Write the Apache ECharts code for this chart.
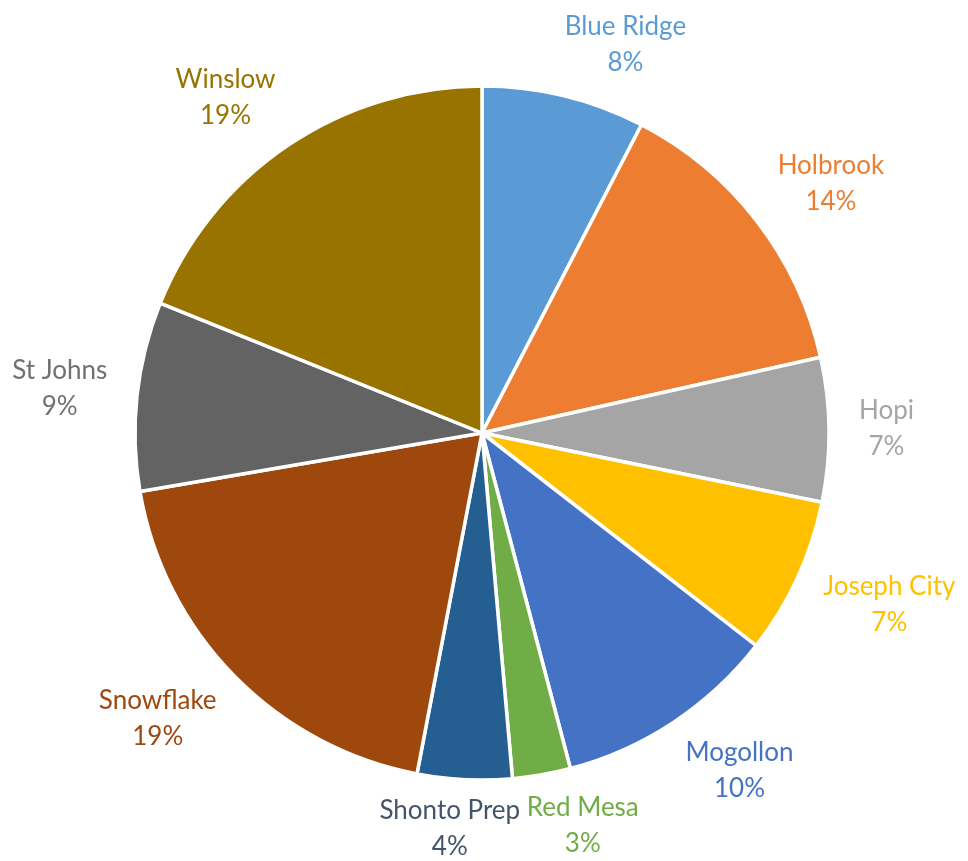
<!DOCTYPE html>
<html>
<head>
<meta charset="utf-8">
<title>Enrollment by School</title>
<script src="https://cdn.jsdelivr.net/npm/echarts@6/dist/echarts.min.js"></script>
<style>
  html, body { margin: 0; padding: 0; background: #ffffff; }
  #chart { width: 968px; height: 861px; }
</style>
</head>
<body>
<div id="chart"></div>
<script>
// Share of the total for each school, clockwise from 12 o'clock
const schools = ['Blue Ridge', 'Holbrook', 'Hopi', 'Joseph City', 'Mogollon',
                 'Red Mesa', 'Shonto Prep', 'Snowflake', 'St Johns', 'Winslow'];
const shares = [7.6, 13.9, 6.7, 7.3, 10.4, 2.7, 4.4, 19.3, 8.8, 18.9];

// Office-style palette for the slices and their labels
const sliceColors = ['#5B9BD5', '#ED7D31', '#A5A5A5', '#FFC000', '#4472C4',
                     '#70AD47', '#255E91', '#9E480E', '#636363', '#997300'];
const labelColors = ['#5B9BD5', '#ED7D31', '#A5A5A5', '#FFC000', '#4472C4',
                     '#70AD47', '#44546A', '#9E480E', '#707070', '#997300'];

const CX = 482, CY = 433, R = 347;

// Mid-angle of each slice (radians, clockwise from the top)
const total = shares.reduce((a, b) => a + b, 0);
const midAngles = [];
let acc = 0;
shares.forEach(v => { midAngles.push((acc + v / 2) / total * 2 * Math.PI); acc += v; });

const clamp = (t) => Math.max(-1, Math.min(1, t));

const chart = echarts.init(document.getElementById('chart'), null, { renderer: 'canvas' });

chart.setOption({
  animation: false,
  backgroundColor: '#ffffff',
  series: [{
    type: 'pie',
    center: [CX, CY],
    radius: R,
    startAngle: 90,
    clockwise: true,
    avoidLabelOverlap: false,
    silent: true,
    itemStyle: { borderColor: '#ffffff', borderWidth: 3.5 },
    label: {
      show: true,
      position: 'outside',
      formatter: (p) => p.name + '\n' + Math.round(p.percent) + '%',
      fontFamily: 'Lato, "Open Sans", sans-serif',
      fontSize: 26,
      lineHeight: 36,
      align: 'center'
    },
    labelLine: { show: false },
    // Put each label just outside the rim, pushed sideways by its own width
    labelLayout: function (p) {
      const a = midAngles[p.dataIndex];
      const ux = Math.sin(a), uy = -Math.cos(a);
      const w = p.labelRect.width, h = p.labelRect.height;
      const dist = R + 12 + 18 * Math.abs(ux);
      const px = CX + dist * ux;
      const py = CY + dist * uy;
      return {
        x: px + w / 2 * clamp(4 * ux),
        y: py + h / 2 * uy,
        align: 'center',
        verticalAlign: 'middle'
      };
    },
    data: schools.map((name, i) => ({
      name: name,
      value: shares[i],
      itemStyle: { color: sliceColors[i] },
      label: { color: labelColors[i] }
    }))
  }]
});
</script>
</body>
</html>
